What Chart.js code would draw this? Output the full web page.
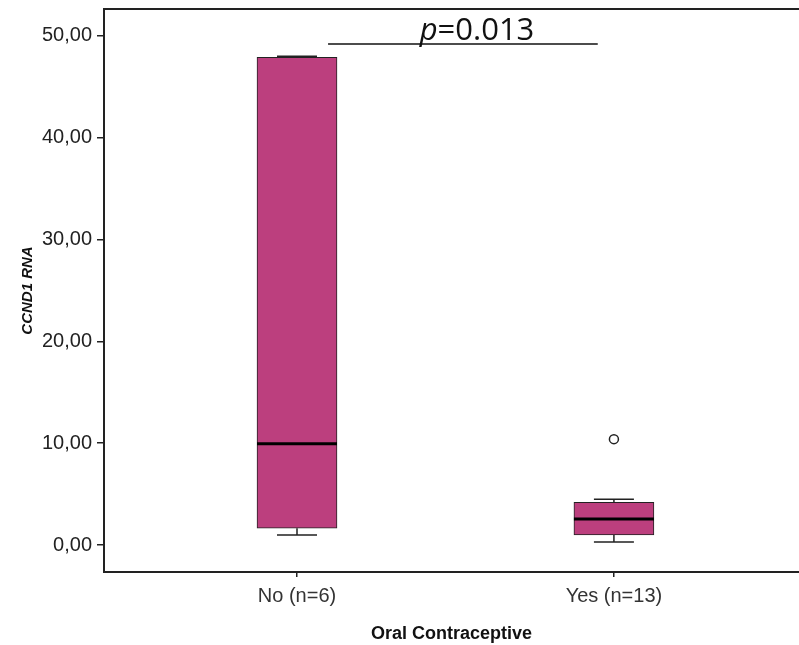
<!DOCTYPE html>
<html>
<head>
<meta charset="utf-8">
<script src="https://cdn.jsdelivr.net/npm/chart.js@4.4.1/dist/chart.umd.min.js"></script>
<style>
html, body { margin: 0; padding: 0; background: #fff; }
#wrap { width: 799px; height: 645px; }
</style>
</head>
<body>
<div id="wrap"><canvas id="chart"></canvas></div>
<script>
// data
const groups = ["No (n=6)", "Yes (n=13)"];
const groupX = [1, 2];
const minValues = [0.98, 0.30];
const q1Values = [1.65, 0.98];
const medianValues = [9.95, 2.55];
const q3Values = [47.9, 4.2];
const maxValues = [48.0, 4.5];
const outlierValues = [{ x: 2, y: 10.4 }];
const yTicks = [0, 10, 20, 30, 40, 50];
const pText = "=0.013";

const boxColor = "#bc3f7e";
const lineColor = "#222";

// whiskers + median, drawn with the chart scales
const boxPlot = {
    id: "boxPlot",
    afterDatasetsDraw(chart) {
        const { ctx, scales: { x, y } } = chart;
        const meta = chart.getDatasetMeta(0);
        ctx.save();
        ctx.strokeStyle = lineColor;
        groupX.forEach((gx, i) => {
            const cx = x.getPixelForValue(gx);
            const half = meta.data[i].width / 2;
            const capHalf = 20;
            ctx.lineWidth = 1.5;
            ctx.beginPath();
            ctx.moveTo(cx, y.getPixelForValue(q3Values[i]));
            ctx.lineTo(cx, y.getPixelForValue(maxValues[i]));
            ctx.moveTo(cx - capHalf, y.getPixelForValue(maxValues[i]));
            ctx.lineTo(cx + capHalf, y.getPixelForValue(maxValues[i]));
            ctx.moveTo(cx, y.getPixelForValue(q1Values[i]));
            ctx.lineTo(cx, y.getPixelForValue(minValues[i]));
            ctx.moveTo(cx - capHalf, y.getPixelForValue(minValues[i]));
            ctx.lineTo(cx + capHalf, y.getPixelForValue(minValues[i]));
            ctx.stroke();
            // median
            ctx.lineWidth = 3;
            ctx.strokeStyle = "#000";
            ctx.beginPath();
            ctx.moveTo(cx - half, y.getPixelForValue(medianValues[i]));
            ctx.lineTo(cx + half, y.getPixelForValue(medianValues[i]));
            ctx.stroke();
            ctx.strokeStyle = lineColor;
        });

        // p-value bar
        const x0 = x.getPixelForValue(1.098);
        const x1 = x.getPixelForValue(1.949);
        const ly = y.getPixelForValue(49.2);
        ctx.lineWidth = 1.5;
        ctx.strokeStyle = "#111";
        ctx.beginPath();
        ctx.moveTo(x0, ly);
        ctx.lineTo(x1, ly);
        ctx.stroke();

        ctx.fillStyle = "#111";
        ctx.textBaseline = "alphabetic";
        const italic = "italic 31px 'Open Sans'";
        const normal = "31px 'Open Sans'";
        ctx.font = italic;
        const wp = ctx.measureText("p").width;
        ctx.font = normal;
        const wr = ctx.measureText(pText).width;
        const tx = x.getPixelForValue(1.568) - (wp + wr) / 2;
        ctx.font = italic;
        ctx.fillText("p", tx, ly - 4);
        ctx.font = normal;
        ctx.fillText(pText, tx + wp, ly - 4);
        ctx.restore();
    }
};

const boxData = groupX.map((gx, i) => ({ x: gx, y: [q1Values[i], q3Values[i]] }));

new Chart(document.getElementById("chart"), {
    type: "bar",
    data: {
        datasets: [
            {
                type: "bar",
                data: boxData,
                backgroundColor: boxColor,
                borderColor: lineColor,
                borderWidth: 1,
                borderSkipped: false,
                barThickness: 80,
                grouped: false
            },
            {
                type: "scatter",
                data: outlierValues,
                pointRadius: 4.5,
                pointBackgroundColor: "#fff",
                pointBorderColor: lineColor,
                pointBorderWidth: 1.5
            }
        ]
    },
    options: {
        responsive: true,
        maintainAspectRatio: false,
        animation: false,
        layout: { autoPadding: false, padding: { top: 9, left: 0, right: 0, bottom: 0 } },
        plugins: {
            legend: { display: false },
            tooltip: { enabled: false }
        },
        scales: {
            x: {
                type: "linear",
                position: "bottom",
                offset: false,
                min: 0.391,
                max: 2.584,
                afterBuildTicks: scale => { scale.ticks = groupX.map(v => ({ value: v })); },
                afterFit: scale => { scale.height = 73; scale.paddingLeft = 0; scale.paddingRight = 0; },
                grid: { display: true, offset: false, drawOnChartArea: false, drawTicks: true, tickLength: 5, color: lineColor, lineWidth: 1.5 },
                border: { display: true, color: lineColor, width: 2 },
                ticks: {
                    padding: 7,
                    color: "#333",
                    font: { family: "'Liberation Sans', Arial", size: 20 },
                    callback: v => groups[groupX.indexOf(v)] ?? ""
                },
                title: {
                    display: true,
                    text: "Oral Contraceptive",
                    color: "#111",
                    padding: 0,
                    font: { family: "'Liberation Sans', Arial", size: 18, weight: "bold" }
                }
            },
            x2: {
                type: "linear",
                position: "top",
                afterFit: scale => { scale.height = 0; scale.paddingLeft = 0; scale.paddingRight = 0; },
                ticks: { display: false },
                grid: { display: false, drawTicks: false },
                border: { display: true, color: lineColor, width: 2 }
            },
            y: {
                min: -2.65,
                max: 52.65,
                afterBuildTicks: scale => { scale.ticks = yTicks.map(v => ({ value: v })); },
                afterFit: scale => { scale.width = 104; scale.paddingTop = 0; scale.paddingBottom = 0; },
                grid: { display: true, drawOnChartArea: false, drawTicks: true, tickLength: 7, color: lineColor, lineWidth: 1.5 },
                border: { display: true, color: lineColor, width: 2 },
                ticks: {
                    padding: 5,
                    color: "#222",
                    font: { family: "'Liberation Sans', Arial", size: 20 },
                    callback: v => v.toFixed(2).replace(".", ",")
                },
                title: {
                    display: true,
                    text: "CCND1 RNA",
                    color: "#111",
                    padding: { top: 19, bottom: 0 },
                    font: { family: "'Liberation Sans', Arial", size: 15, weight: "bold", style: "italic" }
                }
            }
        }
    },
    plugins: [boxPlot]
});
</script>
</body>
</html>
